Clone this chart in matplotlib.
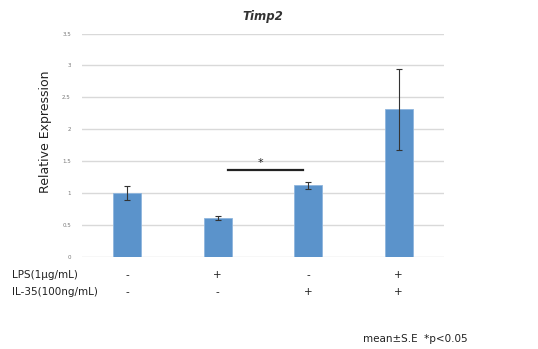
import numpy as np
import matplotlib.pyplot as plt

# Expressão relativa de Timp2 (média ± erro padrão)
groups = ["ctrl", "LPS", "IL-35", "LPS+IL-35"]
means = [1.00, 0.61, 1.12, 2.31]
errors = [0.11, 0.03, 0.05, 0.63]
lps_row = ["-", "+", "-", "+"]
il35_row = ["-", "-", "+", "+"]
yticks = [0, 0.5, 1, 1.5, 2, 2.5, 3, 3.5]
ytick_labels = ["0", "0.5", "1", "1.5", "2", "2.5", "3", "3.5"]
sig_pair = (1, 2)
sig_height = 1.37

fig = plt.figure(figsize=(5.38, 3.49), dpi=100)
ax = fig.add_axes([0.1524, 0.2636, 0.6729, 0.6404])

x = np.arange(len(groups))
ax.bar(x, means, width=0.31, color="#5B93CB", edgecolor="#8FB6DE",
       linewidth=0.6, zorder=3)
ax.errorbar(x, means, yerr=errors, fmt="none", ecolor="#333333",
            elinewidth=0.8, capsize=2.5, capthick=0.8, zorder=4)

ax.set_xlim(-0.5, len(groups) - 0.5)
ax.set_ylim(0, 3.5)
ax.set_yticks(yticks)
ax.set_yticklabels(ytick_labels, fontsize=4, color="#777777")
ax.set_xticks([])
ax.tick_params(axis="y", length=0, pad=8)
ax.yaxis.grid(True, color="#D9D9D9", linewidth=1.0, zorder=0)
for s in ax.spines.values():
    s.set_visible(False)

ax.set_title("Timp2", fontsize=8.5, fontstyle="italic", fontweight="bold",
             color="#333333", pad=10)
fig.text(0.084, 1 - 132 / 349, "Relative Expression", rotation=90,
         fontsize=9, ha="center", va="center", color="#222222")

# barra de significância
ax.plot([sig_pair[0] + 0.11, sig_pair[1] - 0.06], [sig_height, sig_height],
        color="#222222", linewidth=1.6, zorder=5)
ax.text((sig_pair[0] + sig_pair[1]) / 2 - 0.03, sig_height + 0.03, "*",
        ha="center", va="bottom", fontsize=8, color="#222222")

# tabela de tratamentos abaixo do eixo
row_y = [1 - 275 / 349, 1 - 292 / 349]
for xi, (a, b) in enumerate(zip(lps_row, il35_row)):
    xf = ax.transData.transform((xi, 0))[0] / fig.bbox.width
    fig.text(xf, row_y[0], a, ha="center", va="center", fontsize=7.5,
             color="#222222")
    fig.text(xf, row_y[1], b, ha="center", va="center", fontsize=7.5,
             color="#222222")
fig.text(0.022, row_y[0], "LPS(1µg/mL)", ha="left", va="center",
         fontsize=7.5, color="#222222")
fig.text(0.022, row_y[1], "IL-35(100ng/mL)", ha="left", va="center",
         fontsize=7.5, color="#222222")

fig.text(0.674, 1 - 339 / 349, "mean±S.E  *p<0.05", ha="left", va="center",
         fontsize=7.5, color="#222222")

plt.savefig("out.png", dpi=100)
